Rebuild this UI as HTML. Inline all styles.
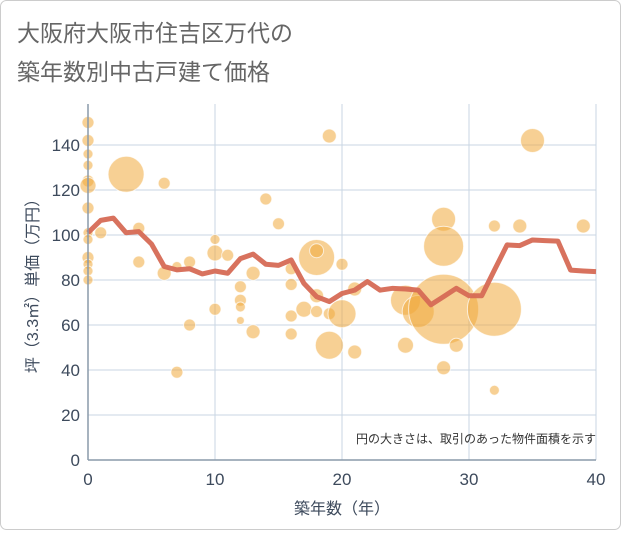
<!DOCTYPE html>
<html><head><meta charset="utf-8"><style>
body{margin:0;background:#fff}
svg text{font-family:"Liberation Sans","Noto Sans CJK JP",sans-serif}
</style></head><body>
<svg id="c" width="621" height="530" xmlns="http://www.w3.org/2000/svg">
<rect x="0.5" y="0.5" width="620" height="529" rx="6" fill="#fff" stroke="#ccc"/>
<text x="17" y="41" font-size="23" fill="#666">大阪府大阪市住吉区万代の</text>
<text x="17" y="80" font-size="23" fill="#666">築年数別中古戸建て価格</text>
<g id="grid"></g>
<g id="bubbles"></g>
<g id="line"></g>
<g id="axes"></g>
<text x="596" y="443" font-size="12" fill="#333" text-anchor="end">円の大きさは、取引のあった物件面積を示す</text>
<text x="342" y="514" font-size="16" fill="#3d4a5c" text-anchor="middle">築年数（年）</text>
<text transform="translate(38,282) rotate(-90)" font-size="16" fill="#3d4a5c" text-anchor="middle">坪（3.3㎡）単価（万円）</text>
</svg>
<script>
const xTicks=[0,10,20,30,40];
const yTicks=[0,20,40,60,80,100,120,140];
const lineYears=[0,1,2,3,4,5,6,7,8,9,10,11,12,13,14,15,16,17,18,19,20,21,22,23,24,25,26,27,28,29,30,31,32,33,34,35,36,37,38,39,40];
const lineValues=[101,106.5,107.5,101,101.5,96,86,84.5,85,82.7,84,83,89.5,91.5,87,86.5,88.9,78.5,72.6,70.4,74,75.5,79.3,75.5,76.3,76,75.5,69,72.6,76.3,73,73,84.4,95.6,95.3,97.8,97.5,97.3,84.4,84,83.7];
const bubbleX=[0,0,0,0,0,0,0,0,0,0,0,0,0,1,3,4,4,6,6,7,7,8,8,10,10,10,11,12,12,12,12,13,13,14,15,16,16,16,16,17,18,18,18,18,19,19,19,20,20,21,21,25,26,28,28,28,28,29,32,32,32,34,35,39,25];
const bubbleY=[150,142,136,131,124,122,112,101,98,90,87,84,80,101,127,103,88,123,83,86,39,88,60,98,92,67,91,77,71,68,62,83,57,116,105,85,78,64,56,67,90,93,73,66,144,65,51,87,65,76,48,71,66,67,107,95,41,51,67,104,31,104,142,104,51];
const bubbleR=[6,6,5,5,6,8,6,5,5,6,5,5,5,6,18,6,6,6,7,5,6,6,6,5,8,6,6,6,6,5,4,7,7,6,6,6,6,6,6,8,18,7,7,6,7,6,14,6,14,7,7,15,16,35,12,20,7,7,27,6,5,7,12,7,8];
const X=v=>88+v*(508/40), Y=v=>460-v*2.25;
const NS="http://www.w3.org/2000/svg";
function mk(t,a,p){const e=document.createElementNS(NS,t);for(const k in a)e.setAttribute(k,a[k]);p.appendChild(e);return e;}
const grid=document.getElementById('grid'),axes=document.getElementById('axes');
yTicks.forEach(v=>{if(v>0){const g=mk('line',{x1:88,x2:596,y1:Y(v),y2:Y(v),stroke:'#c9d6e3','stroke-width':1},grid);

}
const t=mk('text',{x:80,y:Y(v)+6,'font-size':17,fill:'#3d4a5c','text-anchor':'end'},axes);t.textContent=v;

});
xTicks.forEach(v=>{if(v>0){const g=mk('line',{x1:X(v),x2:X(v),y1:104,y2:460,stroke:'#c9d6e3','stroke-width':1},grid);

}
const t=mk('text',{x:X(v),y:485,'font-size':17,fill:'#3d4a5c','text-anchor':'middle'},axes);t.textContent=v;

});
const ax=mk('line',{x1:88,x2:88,y1:104,y2:460,stroke:'#8a9aaa','stroke-width':1.5},axes);


const bx=mk('line',{x1:88,x2:596,y1:460,y2:460,stroke:'#8a9aaa','stroke-width':1.5},axes);


const bg=document.getElementById('bubbles');
bubbleX.forEach((v,i)=>{const c=mk('circle',{cx:X(v),cy:Y(bubbleY[i]),r:bubbleR[i],fill:'rgba(240,170,60,0.55)',stroke:'rgba(255,255,255,0.7)','stroke-width':1},bg);

});
const pts=lineYears.map((v,i)=>X(v)+','+Y(lineValues[i])).join(' ');
const pl=mk('polyline',{points:pts,fill:'none',stroke:'#d66a55','stroke-width':5,'stroke-linejoin':'round','stroke-opacity':0.95},document.getElementById('line'));


</script>
</body></html>
